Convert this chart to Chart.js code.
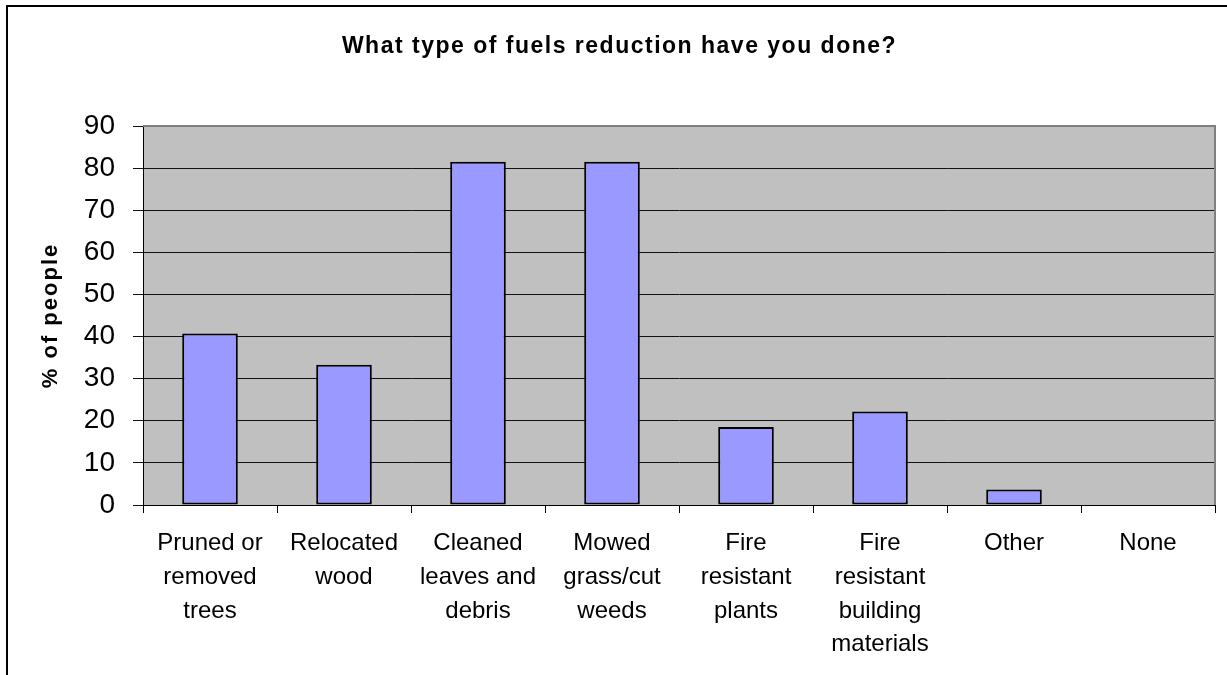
<!DOCTYPE html>
<html>
<head>
<meta charset="utf-8">
<title>What type of fuels reduction have you done?</title>
<script src="https://cdn.jsdelivr.net/npm/chart.js@4.4.0/dist/chart.umd.min.js"></script>
<style>
    html, body { margin: 0; padding: 0; background: #fff; }
    canvas { display: block; }
</style>
</head>
<body>
<canvas id="fuelsChart" width="1227" height="675"></canvas>
<script>
// survey answers (one label per bar, split into lines)
var categories = [
    ['Pruned or', 'removed', 'trees'],
    ['Relocated', 'wood'],
    ['Cleaned', 'leaves and', 'debris'],
    ['Mowed', 'grass/cut', 'weeds'],
    ['Fire', 'resistant', 'plants'],
    ['Fire', 'resistant', 'building', 'materials'],
    ['Other'],
    ['None']
];

// % of people per answer
var percentPeople = [40.7, 33.3, 81.5, 81.5, 18.5, 22.2, 3.7, 0];

// y axis ticks 0..90 by 10
var yMin = 0;
var yMax = 90;
var yStep = 10;

var chartTitle = 'What type of fuels reduction have you done?';
var yTitle = '% of people';

var FONT = "'Liberation Sans', Arial, sans-serif";

// wrap a draw method so its text is drawn with extra letter spacing
function widen(obj, method, spacing) {
    var orig = obj[method];
    obj[method] = function () {
        var ctx = this.ctx;
        ctx.save();
        ctx.letterSpacing = spacing;
        orig.apply(this, arguments);
        ctx.restore();
    };
}

var spacedText = {
    id: 'spacedText',
    afterInit: function (chart) {
        widen(chart.titleBlock, 'draw', '1.5px');
    },
    beforeDraw: function (chart) {
        var y = chart.scales.y;
        if (!y._widened) {
            widen(y, 'drawTitle', '2px');
            y._widened = true;
        }
    }
};

// gray plot area, outer frame, gray border on top/right of the plot
var plotArea = {
    id: 'plotArea',
    beforeDraw: function (chart) {
        var ctx = chart.ctx;
        var a = chart.chartArea;
        ctx.save();
        ctx.fillStyle = '#c0c0c0';
        ctx.fillRect(a.left, a.top, a.right - a.left, a.bottom - a.top);
        ctx.strokeStyle = '#000';
        ctx.lineWidth = 2;
        ctx.beginPath();
        ctx.moveTo(7, chart.height);
        ctx.lineTo(7, 6);
        ctx.lineTo(chart.width, 6);
        ctx.stroke();
        ctx.restore();
    },
    beforeDatasetsDraw: function (chart) {
        var ctx = chart.ctx;
        var a = chart.chartArea;
        ctx.save();
        ctx.strokeStyle = '#808080';
        ctx.lineWidth = 2;
        ctx.beginPath();
        ctx.moveTo(a.left, a.top);
        ctx.lineTo(a.right, a.top);
        ctx.lineTo(a.right, a.bottom);
        ctx.stroke();
        ctx.restore();
    }
};

var fuelsChart = new Chart(document.getElementById('fuelsChart'), {
    type: 'bar',
    data: {
        labels: categories,
        datasets: [{
            label: yTitle,
            data: percentPeople,
            backgroundColor: '#9999ff',
            borderColor: '#000',
            borderWidth: 2,
            borderSkipped: false,
            barPercentage: 0.415,
            categoryPercentage: 1
        }]
    },
    options: {
        responsive: false,
        animation: false,
        layout: {
            padding: { left: 24, right: 12, top: 0, bottom: 0 }
        },
        plugins: {
            legend: { display: false },
            tooltip: { enabled: false },
            title: {
                display: true,
                text: chartTitle,
                color: '#000',
                font: { family: FONT, size: 23, weight: 'bold', lineHeight: 1.2 },
                padding: { top: 33, bottom: 65.4 }
            }
        },
        scales: {
            x: {
                grid: {
                    offset: true,
                    drawOnChartArea: false,
                    drawTicks: true,
                    tickLength: 8,
                    color: '#000'
                },
                border: { display: true, color: '#000', width: 1 },
                ticks: {
                    color: '#000',
                    font: { family: FONT, size: 24, lineHeight: 1.4 },
                    padding: 14,
                    maxRotation: 0,
                    minRotation: 0,
                    autoSkip: false
                },
                afterFit: function (scale) {
                    scale.height = 170;
                }
            },
            y: {
                min: yMin,
                max: yMax,
                grid: {
                    color: '#111',
                    lineWidth: 1,
                    tickLength: 10
                },
                border: { display: true, color: '#000', width: 1 },
                ticks: {
                    stepSize: yStep,
                    color: '#000',
                    font: { family: FONT, size: 28 },
                    padding: 18
                },
                title: {
                    display: true,
                    text: yTitle,
                    color: '#000',
                    font: { family: FONT, size: 22, weight: 'bold', lineHeight: 1.2 },
                    padding: { top: 14, bottom: 0 }
                },
                afterFit: function (scale) {
                    scale.width = 119;
                }
            }
        }
    },
    plugins: [plotArea, spacedText]
});
</script>
</body>
</html>
